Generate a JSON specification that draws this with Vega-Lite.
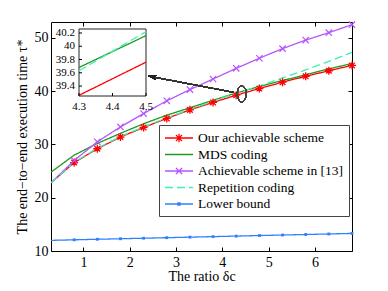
{
  "$schema": "https://vega.github.io/schema/vega-lite/v6.json",
  "width": 301,
  "height": 229,
  "autosize": "none",
  "padding": {"left": 51, "top": 22, "right": 36, "bottom": 40},
  "background": "white",
  "config": {
    "view": {"stroke": "#000", "strokeWidth": 1},
    "font": "Liberation Serif",
    "legend": {"labelFont": "Liberation Serif"},
    "axis": {
      "grid": false,
      "domain": false,
      "labelFont": "Liberation Serif",
      "titleFont": "Liberation Serif",
      "labelColor": "#000",
      "titleColor": "#000",
      "tickColor": "#000",
      "titleFontWeight": "normal"
    }
  },
  "layer": [
    {
      "data": {
        "values": [
          {"x": 0.3, "series": "Our achievable scheme", "y": 22.8},
          {"x": 0.8, "series": "Our achievable scheme", "y": 26.6},
          {"x": 1.3, "series": "Our achievable scheme", "y": 29.2},
          {"x": 1.8, "series": "Our achievable scheme", "y": 31.4},
          {"x": 2.3, "series": "Our achievable scheme", "y": 33.2},
          {"x": 2.8, "series": "Our achievable scheme", "y": 34.9},
          {"x": 3.3, "series": "Our achievable scheme", "y": 36.5},
          {"x": 3.8, "series": "Our achievable scheme", "y": 37.9},
          {"x": 4.3, "series": "Our achievable scheme", "y": 39.26},
          {"x": 4.8, "series": "Our achievable scheme", "y": 40.5},
          {"x": 5.3, "series": "Our achievable scheme", "y": 41.7},
          {"x": 5.8, "series": "Our achievable scheme", "y": 42.8},
          {"x": 6.3, "series": "Our achievable scheme", "y": 43.85},
          {"x": 6.8, "series": "Our achievable scheme", "y": 44.85},
          {"x": 0.3, "series": "MDS coding", "y": 24.8},
          {"x": 0.8, "series": "MDS coding", "y": 28.0},
          {"x": 1.3, "series": "MDS coding", "y": 30.2},
          {"x": 1.8, "series": "MDS coding", "y": 32.1},
          {"x": 2.3, "series": "MDS coding", "y": 33.9},
          {"x": 2.8, "series": "MDS coding", "y": 35.5},
          {"x": 3.3, "series": "MDS coding", "y": 36.9},
          {"x": 3.8, "series": "MDS coding", "y": 38.3},
          {"x": 4.3, "series": "MDS coding", "y": 39.67},
          {"x": 4.8, "series": "MDS coding", "y": 40.9},
          {"x": 5.3, "series": "MDS coding", "y": 42.0},
          {"x": 5.8, "series": "MDS coding", "y": 43.1},
          {"x": 6.3, "series": "MDS coding", "y": 44.2},
          {"x": 6.8, "series": "MDS coding", "y": 45.2},
          {"x": 0.3, "series": "Achievable scheme in [13]", "y": 22.8},
          {"x": 0.8, "series": "Achievable scheme in [13]", "y": 27.0},
          {"x": 1.3, "series": "Achievable scheme in [13]", "y": 30.5},
          {"x": 1.8, "series": "Achievable scheme in [13]", "y": 33.3},
          {"x": 2.3, "series": "Achievable scheme in [13]", "y": 35.8},
          {"x": 2.8, "series": "Achievable scheme in [13]", "y": 38.2},
          {"x": 3.3, "series": "Achievable scheme in [13]", "y": 40.3},
          {"x": 3.8, "series": "Achievable scheme in [13]", "y": 42.3},
          {"x": 4.3, "series": "Achievable scheme in [13]", "y": 44.3},
          {"x": 4.8, "series": "Achievable scheme in [13]", "y": 46.2},
          {"x": 5.3, "series": "Achievable scheme in [13]", "y": 48.0},
          {"x": 5.8, "series": "Achievable scheme in [13]", "y": 49.6},
          {"x": 6.3, "series": "Achievable scheme in [13]", "y": 51.0},
          {"x": 6.8, "series": "Achievable scheme in [13]", "y": 52.5},
          {"x": 0.3, "series": "Repetition coding", "y": 22.8},
          {"x": 0.8, "series": "Repetition coding", "y": 26.65},
          {"x": 1.3, "series": "Repetition coding", "y": 29.3},
          {"x": 1.8, "series": "Repetition coding", "y": 31.5},
          {"x": 2.3, "series": "Repetition coding", "y": 33.3},
          {"x": 2.8, "series": "Repetition coding", "y": 35.0},
          {"x": 3.3, "series": "Repetition coding", "y": 36.6},
          {"x": 3.8, "series": "Repetition coding", "y": 38.1},
          {"x": 4.3, "series": "Repetition coding", "y": 39.63},
          {"x": 4.8, "series": "Repetition coding", "y": 41.0},
          {"x": 5.3, "series": "Repetition coding", "y": 42.5},
          {"x": 5.8, "series": "Repetition coding", "y": 44.0},
          {"x": 6.3, "series": "Repetition coding", "y": 45.6},
          {"x": 6.8, "series": "Repetition coding", "y": 47.3},
          {"x": 0.3, "series": "Lower bound", "y": 12.0},
          {"x": 0.8, "series": "Lower bound", "y": 12.1},
          {"x": 1.3, "series": "Lower bound", "y": 12.2},
          {"x": 1.8, "series": "Lower bound", "y": 12.3},
          {"x": 2.3, "series": "Lower bound", "y": 12.4},
          {"x": 2.8, "series": "Lower bound", "y": 12.5},
          {"x": 3.3, "series": "Lower bound", "y": 12.6},
          {"x": 3.8, "series": "Lower bound", "y": 12.7},
          {"x": 4.3, "series": "Lower bound", "y": 12.8},
          {"x": 4.8, "series": "Lower bound", "y": 12.9},
          {"x": 5.3, "series": "Lower bound", "y": 13.0},
          {"x": 5.8, "series": "Lower bound", "y": 13.1},
          {"x": 6.3, "series": "Lower bound", "y": 13.2},
          {"x": 6.8, "series": "Lower bound", "y": 13.3}
        ]
      },
      "layer": [
        {
          "mark": {"type": "line", "clip": true},
          "encoding": {
            "x": {
              "field": "x", "type": "quantitative",
              "scale": {"domain": [0.3, 6.8], "nice": false, "zero": false},
              "axis": {
                "orient": "bottom", "values": [1, 2, 3, 4, 5, 6],
                "tickSize": -4, "labelPadding": 8, "labelFontSize": 14,
                "title": "The ratio δc", "titleFontSize": 14, "titlePadding": 0
              }
            },
            "y": {
              "field": "y", "type": "quantitative",
              "scale": {"domain": [10, 53], "nice": false, "zero": false},
              "axis": {
                "orient": "left", "values": [10, 20, 30, 40, 50],
                "tickSize": -4, "labelPadding": 7, "labelFontSize": 14,
                "title": "The end−to−end execution time τ*", "titleFontSize": 14, "titlePadding": 5
              }
            },
            "color": {
              "field": "series", "type": "nominal",
              "scale": {
                "domain": ["Our achievable scheme", "MDS coding", "Achievable scheme in [13]", "Repetition coding", "Lower bound"],
                "range": ["#ff0000", "#1e9a1e", "#b455ff", "#3cf0b0", "#2f80ff"]
              },
              "legend": {
                "orient": "none", "legendX": 108, "legendY": 103, "title": null,
                "symbolSize": 196, "symbolStrokeWidth": 1.3,
                "labelFontSize": 13.5, "labelFont": "Liberation Serif", "labelColor": "#000",
                "labelLimit": 300, "labelOffset": 18,
                "strokeColor": "#444", "fillColor": "white", "padding": 5, "rowPadding": 1.5,
                "encode": {
                  "symbols": {
                    "update": {
                      "shape": {"signal": "datum.value === 'Our achievable scheme' ? 'M-1,0H3M1,-0.6V0.6M0.4,0H1.6M0.57,-0.43L1.43,0.43M0.57,0.43L1.43,-0.43' : datum.value === 'Achievable scheme in [13]' ? 'M-1,0H3M0.55,-0.45L1.45,0.45M0.55,0.45L1.45,-0.45' : datum.value === 'Lower bound' ? 'M-1,0H3M0.85,-0.15H1.15V0.15H0.85Z' : 'M-1,0H3'"},
                      "fill": {"value": "transparent"}
                    }
                  }
                }
              }
            },
            "strokeDash": {
              "field": "series", "type": "nominal",
              "scale": {
                "domain": ["Our achievable scheme", "MDS coding", "Achievable scheme in [13]", "Repetition coding", "Lower bound"],
                "range": [[1, 0], [1, 0], [1, 0], [8, 4], [1, 0]]
              }
            },
            "strokeWidth": {
              "field": "series", "type": "nominal",
              "scale": {
                "domain": ["Our achievable scheme", "MDS coding", "Achievable scheme in [13]", "Repetition coding", "Lower bound"],
                "range": [1.3, 1.3, 1.3, 2.2, 1.3]
              },
              "legend": null
            }
          }
        },
        {
          "transform": [
            {"filter": {"field": "x", "gt": 0.5}},
            {"filter": {"field": "series", "equal": "Our achievable scheme"}}
          ],
          "mark": {"type": "point", "filled": false, "strokeWidth": 1.3, "opacity": 1, "size": 64, "shape": "M0,-1V1M-1,0H1M-0.7,-0.7L0.7,0.7M-0.7,0.7L0.7,-0.7", "color": "#ff0000"},
          "encoding": {
            "x": {
              "field": "x", "type": "quantitative",
              "axis": {"orient": "top", "values": [1, 2, 3, 4, 5, 6], "tickSize": -4, "labels": false, "title": null}
            },
            "y": {
              "field": "y", "type": "quantitative",
              "axis": {"orient": "right", "values": [10, 20, 30, 40, 50], "tickSize": -4, "labels": false, "title": null}
            }
          }
        },
        {
          "transform": [
            {"filter": {"field": "x", "gt": 0.5}},
            {"filter": {"field": "series", "equal": "Achievable scheme in [13]"}}
          ],
          "mark": {"type": "point", "filled": false, "strokeWidth": 1.2, "opacity": 1, "size": 40, "shape": "M-1,-1L1,1M-1,1L1,-1", "color": "#b455ff"},
          "encoding": {
            "x": {"field": "x", "type": "quantitative", "axis": null},
            "y": {"field": "y", "type": "quantitative", "axis": null}
          }
        },
        {
          "transform": [
            {"filter": {"field": "x", "gt": 0.5}},
            {"filter": {"field": "series", "equal": "Lower bound"}}
          ],
          "mark": {"type": "square", "filled": true, "opacity": 1, "size": 8, "color": "#2f80ff"},
          "encoding": {
            "x": {"field": "x", "type": "quantitative", "axis": null},
            "y": {"field": "y", "type": "quantitative", "axis": null}
          }
        },
        {
          "mark": {"type": "point", "shape": "M0,-1A0.56,1,0,1,1,0,1A0.56,1,0,1,1,0,-1Z", "size": 256, "filled": false, "stroke": "#444", "strokeWidth": 1, "opacity": 1},
          "encoding": {
            "x": {"datum": 4.42, "type": "quantitative", "axis": null},
            "y": {"datum": 39.5, "type": "quantitative", "axis": null}
          }
        },
        {
          "mark": {"type": "rule", "color": "#333", "strokeWidth": 1},
          "encoding": {
            "x": {"datum": 4.24, "type": "quantitative", "axis": null},
            "y": {"datum": 39.8, "type": "quantitative", "axis": null},
            "x2": {"datum": 2.46},
            "y2": {"datum": 42.75}
          }
        },
        {
          "mark": {"type": "point", "shape": "M-1,0L0.6,-0.5L0.25,0L0.6,0.5Z", "size": 100, "filled": true, "color": "#222", "angle": 11, "opacity": 1},
          "encoding": {
            "x": {"datum": 2.507, "type": "quantitative", "axis": null},
            "y": {"datum": 42.69, "type": "quantitative", "axis": null}
          }
        }
      ]
    },
    {
      "layer": [
        {
          "data": {"values": [{"frame": "inset"}]},
          "mark": {"type": "rect", "fill": "white", "stroke": "#222", "strokeWidth": 1},
          "encoding": {
            "x": {
              "datum": 4.3, "type": "quantitative",
              "scale": {"domain": [4.3, 4.5], "nice": false, "zero": false, "range": [28, 95]},
              "axis": null
            },
            "x2": {"datum": 4.5},
            "y": {
              "datum": 39.25, "type": "quantitative",
              "scale": {"domain": [39.25, 40.26], "nice": false, "zero": false, "range": [74, 7]},
              "axis": null
            },
            "y2": {"datum": 40.26}
          }
        },
        {
          "data": {
            "values": [
              {"ix": 4.3, "series": "Our achievable scheme", "iy": 39.26},
              {"ix": 4.5, "series": "Our achievable scheme", "iy": 39.76},
              {"ix": 4.3, "series": "MDS coding", "iy": 39.68},
              {"ix": 4.5, "series": "MDS coding", "iy": 40.16},
              {"ix": 4.3, "series": "Repetition coding", "iy": 39.63},
              {"ix": 4.5, "series": "Repetition coding", "iy": 40.22}
            ]
          },
          "mark": {"type": "line", "clip": false},
          "encoding": {
            "x": {"field": "ix", "type": "quantitative", "axis": null},
            "y": {"field": "iy", "type": "quantitative", "axis": null},
            "color": {"field": "series", "type": "nominal"},
            "strokeDash": {"field": "series", "type": "nominal"},
            "strokeWidth": {"field": "series", "type": "nominal"}
          }
        },
        {
          "data": {"values": [{"t": 39.4}, {"t": 39.6}, {"t": 39.8}, {"t": 40.0}, {"t": 40.2}]},
          "layer": [
            {
              "mark": {"type": "text", "align": "right", "baseline": "middle", "dx": -4, "fontSize": 11, "font": "Liberation Serif", "color": "#000"},
              "encoding": {
                "x": {"datum": 4.3, "type": "quantitative", "axis": null},
                "y": {"field": "t", "type": "quantitative", "axis": null},
                "text": {"field": "t", "type": "quantitative", "format": "~g"}
              }
            },
            {
              "mark": {"type": "rule", "color": "#000", "strokeWidth": 1},
              "encoding": {
                "x": {"datum": 4.3, "type": "quantitative", "axis": null},
                "x2": {"datum": 4.309},
                "y": {"field": "t", "type": "quantitative", "axis": null}
              }
            }
          ]
        },
        {
          "data": {"values": [{"u": 4.3}, {"u": 4.4}, {"u": 4.5}]},
          "layer": [
            {
              "mark": {"type": "text", "align": "center", "baseline": "top", "dy": 5, "fontSize": 11, "font": "Liberation Serif", "color": "#000"},
              "encoding": {
                "x": {"field": "u", "type": "quantitative", "axis": null},
                "y": {"datum": 39.25, "type": "quantitative", "axis": null},
                "text": {"field": "u", "type": "quantitative", "format": ".1f"}
              }
            },
            {
              "mark": {"type": "rule", "color": "#000", "strokeWidth": 1},
              "encoding": {
                "x": {"field": "u", "type": "quantitative", "axis": null},
                "y": {"datum": 39.25, "type": "quantitative", "axis": null},
                "y2": {"datum": 39.295}
              }
            }
          ]
        }
      ]
    }
  ],
  "resolve": {"scale": {"x": "independent", "y": "independent"}}
}
